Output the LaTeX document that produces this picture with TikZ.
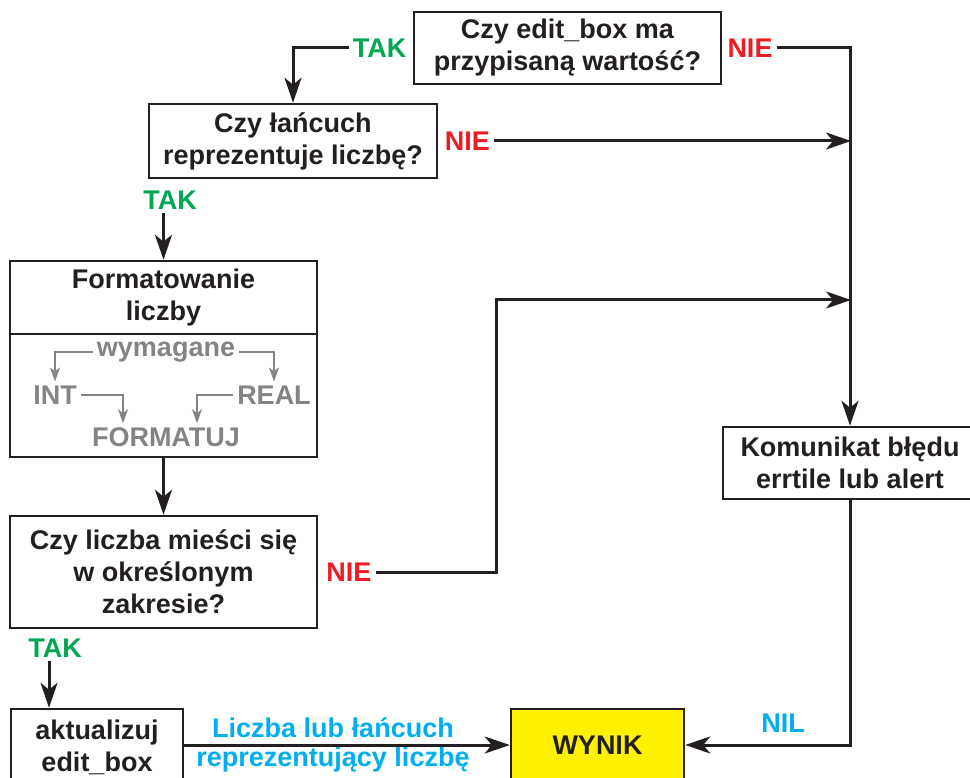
\documentclass[tikz,border=0pt]{standalone}
\usepackage{fontspec}
\setmainfont{Liberation Sans}
\usetikzlibrary{arrows.meta}
\definecolor{ink}{HTML}{231F20}
\definecolor{tgreen}{HTML}{00A651}
\definecolor{tred}{HTML}{ED1C24}
\definecolor{tcyan}{HTML}{00AEEF}
\definecolor{tyellow}{HTML}{FFF200}
\definecolor{tgray}{HTML}{848484}
\tikzset{
  box/.style={draw=ink, line width=2.5pt, inner sep=0pt, align=center,
    font=\fontsize{27}{32}\selectfont\bfseries, text=ink},
  txt/.style={inner sep=0pt, align=center, font=\fontsize{27}{32}\selectfont\bfseries, text=ink},
  lab/.style={inner sep=4pt, font=\fontsize{27}{32}\selectfont\bfseries},
  glab/.style={inner sep=4pt, font=\fontsize{27}{32}\selectfont\bfseries, text=tgray},
  conn/.style={draw=ink, line width=3pt},
  arr/.style={-{Stealth[length=25pt,width=17pt,inset=7pt]}},
  garr/.style={draw=tgray, line width=2.2pt, -{Stealth[length=14pt,width=10pt,inset=4pt]}},
}
\begin{document}
\begin{tikzpicture}[x=1pt,y=-1pt]
\useasboundingbox (0,0) rectangle (970,778);
\clip (0,0) rectangle (970,778);
% boxes
\node[box, minimum width=307pt, minimum height=72pt] (b1) at (567.5,48) {Czy edit\_box ma\\przypisaną wartość?};
\node[box, minimum width=288pt, minimum height=74pt] (b2) at (293,141) {Czy łańcuch\\reprezentuje liczbę?};
\node[box, minimum width=307pt, minimum height=196pt] (b3) at (163.5,359) {};
\node[txt] (ft) at (163.5,298) {Formatowanie\\liczby};
\node[box, minimum width=307pt, minimum height=112pt] (b4) at (163.5,572) {Czy liczba mieści się\\w określonym\\zakresie?};
\node[box, minimum width=172pt, minimum height=76pt] (b5) at (97,747) {aktualizuj\\edit\_box};
\node[box, fill=tyellow, minimum width=173pt, minimum height=72pt] (wyn) at (597.5,745) {WYNIK};
\node[box, minimum width=254pt, minimum height=72pt] (kom) at (850,463) {Komunikat błędu\\errtile lub alert};
% divider inside b3
\coordinate (dv) at (0,334);
\draw[draw=ink, line width=2.5pt] (b3.west |- dv) -- (b3.east |- dv);
% inner gray content
\node[glab] (wym) at (166,352) {wymagane};
\node[glab] (int) at (55,395) {INT};
\node[glab] (real) at (274,395) {REAL};
\node[glab] (fmt) at (166,437) {FORMATUJ};
\draw[garr] (wym.west) -| (int.north);
\draw[garr] (wym.east) -| (real.north);
\draw[garr] (int.east) -| ([xshift=-43pt]fmt.north);
\draw[garr] (real.west) -| ([xshift=31pt]fmt.north);
% labels
\node[lab, text=tgreen] (tak1) at (379.5,48) {TAK};
\node[lab, text=tred] (nie1) at (750,48) {NIE};
\node[lab, text=tred] (nie2) at (467.5,141) {NIE};
\node[lab, text=tgreen] (tak2) at (170,200) {TAK};
\node[lab, text=tred] (nie3) at (349,572) {NIE};
\node[lab, text=tgreen] (tak3) at (55,648) {TAK};
\node[lab, text=tcyan, inner sep=0pt, anchor=base] (l1) at (333,737) {Liczba lub łańcuch};
\node[lab, text=tcyan, inner sep=0pt, anchor=base] (l2) at (333,766) {reprezentujący liczbę};
\node[lab, text=tcyan] (nil) at (783,723) {NIL};
% junctions
\coordinate (j1) at (851,141);
\coordinate (j2) at (851,300);
\coordinate (k1) at (496,300);
% connectors
\draw[conn,arr] (tak1.west) -| (b2.north);
\draw[conn,arr] (nie1.east) -| (kom.north);
\draw[conn,arr] (nie2.east) -- (j1);
\draw[conn,arr] (b3.north |- tak2.south) -- (b3.north);
\draw[conn,arr] (b3.south) -- (b4.north);
\draw[conn,arr] (nie3.east) -| (k1) -- (j2);
\draw[conn,arr] ([xshift=-6pt]tak3.south) -- ([xshift=-6pt]tak3.south |- b5.north);
\draw[conn,arr] (b5.east |- wyn.west) -- (wyn.west);
\draw[conn,arr] (kom.south) |- (wyn.east);
\end{tikzpicture}
\end{document}
